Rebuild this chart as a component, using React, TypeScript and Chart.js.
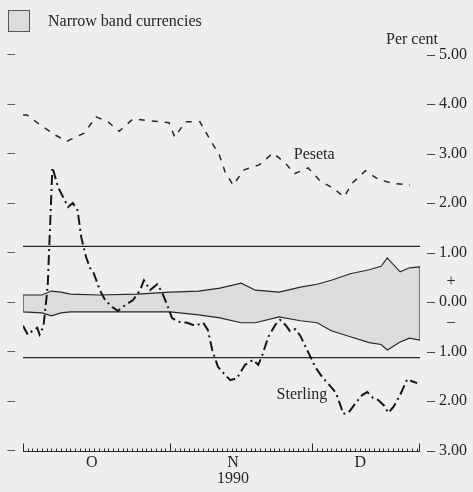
import React, { useEffect, useRef } from "react";
import { Chart, registerables } from "chart.js";

Chart.register(...registerables);

// Days counted from 1 October 1990 (day 0); the axis runs to just before Christmas.
const X_MIN = 0;
const X_MAX = 83.7;
const Y_MIN = -3;
const Y_MAX = 5;

const monthStartDays = [0, 31, 61];
const monthLabelDays = [14.5, 44.3, 71.1];
const monthLabels: (string | string[])[] = ["O", ["N", "1990"], "D"];

// Narrow-band limits (per cent)
const narrowLimit = 1.125;

// Narrow band currencies: envelope of the strongest and weakest currency
const bandDays = [0, 4, 6, 8, 10, 16, 24, 31, 37, 41.5, 46, 49, 54, 58.5, 62, 65, 69, 73, 75.5, 76.8, 79.5, 81.5, 83.7];
const bandUpper = [0.14, 0.14, 0.22, 0.2, 0.16, 0.14, 0.16, 0.2, 0.22, 0.28, 0.38, 0.24, 0.2, 0.3, 0.36, 0.44, 0.57, 0.65, 0.72, 0.89, 0.61, 0.69, 0.71];
const bandLower = [-0.2, -0.22, -0.28, -0.22, -0.2, -0.2, -0.2, -0.2, -0.26, -0.32, -0.42, -0.42, -0.3, -0.38, -0.42, -0.58, -0.7, -0.82, -0.86, -0.97, -0.81, -0.73, -0.77];

// Peseta
const pesetaDays = [0, 0.8, 3.6, 6.8, 9.3, 12.9, 15.4, 17.9, 20.3, 23.2, 27, 30.8, 32, 34.2, 37.3, 39.5, 41.4, 42.6, 44.3, 46.6, 49.8, 52.7, 55.3, 57.2, 60.1, 62.7, 65.4, 67.7, 69.4, 72.2, 74.9, 77.8, 81.6];
const pesetaValues = [3.78, 3.78, 3.58, 3.37, 3.25, 3.41, 3.74, 3.64, 3.45, 3.7, 3.66, 3.62, 3.33, 3.64, 3.64, 3.27, 2.97, 2.63, 2.36, 2.67, 2.77, 3.01, 2.81, 2.59, 2.71, 2.44, 2.3, 2.12, 2.4, 2.65, 2.48, 2.4, 2.36];

// Sterling (joined 8 October 1990)
const sterlingDays = [0, 1, 2, 3, 3.5, 4.3, 5.2, 6.2, 7.4, 9.5, 10.5, 11.5, 12.3, 13.3, 14.1, 14.8, 16.2, 17.3, 18.8, 20, 21.3, 23.2, 24.7, 25.5, 26.8, 28.3, 29.3, 30.4, 31.4, 32.7, 34.6, 36.3, 38, 39, 39.9, 41.1, 42.6, 43.7, 45.1, 46.8, 48.5, 49.6, 50.4, 51.7, 53.2, 54.2, 55.3, 56.3, 57.4, 58.4, 59.9, 61.6, 63.1, 64.8, 66, 66.9, 67.5, 68.6, 70.3, 71.5, 72.6, 73.8, 74.9, 76.2, 77, 78.1, 79.5, 81, 82, 83.1];
const sterlingValues = [-0.48, -0.66, -0.58, -0.52, -0.66, -0.5, 0.3, 2.72, 2.32, 1.92, 2.0, 1.85, 1.3, 0.91, 0.69, 0.61, 0.24, 0.04, -0.1, -0.18, -0.08, 0.04, 0.24, 0.44, 0.24, 0.36, 0.2, -0.06, -0.32, -0.4, -0.42, -0.48, -0.42, -0.57, -0.97, -1.31, -1.47, -1.58, -1.54, -1.27, -1.17, -1.27, -1.09, -0.71, -0.46, -0.36, -0.46, -0.59, -0.55, -0.67, -0.97, -1.31, -1.52, -1.7, -1.84, -2.08, -2.26, -2.24, -2.02, -1.88, -1.82, -1.94, -1.98, -2.1, -2.24, -2.12, -1.88, -1.56, -1.6, -1.64];

// Where the series names sit (day, per cent)
const pesetaNameAt = { day: 61.4, value: 2.97 };
const sterlingNameAt = { day: 58.8, value: -1.88 };

const INK = "#262626";
const PAPER = "#eeeeec";
const BAND_FILL = "#dcdcdb";
const SERIF = "'Liberation Serif', 'DejaVu Serif', serif";

const pts = (xs: number[], ys: number[]) => xs.map((x, i) => ({ x, y: ys[i] }));

const decorations = {
  id: "decorations",
  beforeDraw(chart: any) {
    const { ctx, width, height } = chart;
    ctx.save();
    ctx.fillStyle = PAPER;
    ctx.fillRect(0, 0, width, height);
    ctx.restore();
  },
  afterDraw(chart: any) {
    const { ctx, chartArea } = chart;
    const x = chart.scales.x;
    const y = chart.scales.y;
    ctx.save();
    ctx.strokeStyle = INK;
    ctx.fillStyle = INK;

    // time axis with daily ticks, taller at month starts
    const base = Math.round(y.getPixelForValue(Y_MIN)) + 0.5;
    ctx.lineWidth = 1;
    ctx.beginPath();
    ctx.moveTo(x.getPixelForValue(X_MIN), base);
    ctx.lineTo(x.getPixelForValue(X_MAX), base);
    for (let d = 0; d <= Math.floor(X_MAX); d++) {
      const px = Math.round(x.getPixelForValue(d)) + 0.5;
      const len = monthStartDays.includes(d) ? 8 : 3;
      ctx.moveTo(px, base);
      ctx.lineTo(px, base - len);
    }
    const endPx = Math.round(x.getPixelForValue(X_MAX)) - 0.5;
    ctx.moveTo(endPx, base);
    ctx.lineTo(endPx, base - 8);
    ctx.stroke();

    // legend
    ctx.fillStyle = BAND_FILL;
    ctx.fillRect(8.5, 10.5, 21, 21);
    ctx.lineWidth = 1;
    ctx.strokeStyle = "#555";
    ctx.strokeRect(8.5, 10.5, 21, 21);
    ctx.fillStyle = INK;
    ctx.font = `16px ${SERIF}`;
    ctx.textBaseline = "middle";
    ctx.textAlign = "left";
    ctx.fillText("Narrow band currencies", 48, 22);

    // unit
    ctx.textAlign = "right";
    ctx.fillText("Per cent", 438, 40);

    // sign markers between the axis labels
    ctx.textAlign = "center";
    const signX = chartArea.right + 31;
    ctx.fillText("+", signX, y.getPixelForValue(0.4));
    ctx.fillText("\u2013", signX, y.getPixelForValue(-0.4));

    // series names
    ctx.fillText("Peseta", x.getPixelForValue(pesetaNameAt.day), y.getPixelForValue(pesetaNameAt.value));
    ctx.fillText("Sterling", x.getPixelForValue(sterlingNameAt.day), y.getPixelForValue(sterlingNameAt.value));
    ctx.restore();
  },
};

export default function App() {
  const canvasRef = useRef<HTMLCanvasElement | null>(null);

  useEffect(() => {
    if (!canvasRef.current) return;
    const outline = [
      ...pts(bandDays, bandUpper),
      ...pts(bandDays, bandLower).reverse(),
      { x: bandDays[0], y: bandUpper[0] },
    ];
    const chart = new Chart(canvasRef.current, {
      type: "line",
      data: {
        datasets: [
          {
            label: "Narrow band upper",
            data: pts(bandDays, bandUpper),
            borderWidth: 0,
            pointRadius: 0,
            fill: "+1",
            backgroundColor: BAND_FILL,
            order: 6,
          },
          {
            label: "Narrow band lower",
            data: pts(bandDays, bandLower),
            borderWidth: 0,
            pointRadius: 0,
            fill: false,
            order: 5,
          },
          {
            label: "Narrow band outline",
            data: outline,
            borderColor: INK,
            borderWidth: 1.1,
            pointRadius: 0,
            fill: false,
            order: 4,
          },
          {
            label: "Upper limit",
            data: [
              { x: X_MIN, y: narrowLimit },
              { x: X_MAX, y: narrowLimit },
            ],
            borderColor: INK,
            borderWidth: 1.2,
            pointRadius: 0,
            fill: false,
            order: 3,
          },
          {
            label: "Lower limit",
            data: [
              { x: X_MIN, y: -narrowLimit },
              { x: X_MAX, y: -narrowLimit },
            ],
            borderColor: INK,
            borderWidth: 1.2,
            pointRadius: 0,
            fill: false,
            order: 3,
          },
          {
            label: "Peseta",
            data: pts(pesetaDays, pesetaValues),
            borderColor: INK,
            borderWidth: 1.5,
            borderDash: [6, 7],
            pointRadius: 0,
            fill: false,
            order: 1,
          },
          {
            label: "Sterling",
            data: pts(sterlingDays, sterlingValues),
            borderColor: "#161616",
            borderWidth: 2,
            borderDash: [10, 4, 2, 4],
            pointRadius: 0,
            fill: false,
            order: 0,
          },
        ],
      },
      options: {
        animation: false,
        responsive: false,
        layout: { padding: { top: 54.5, left: 0, right: 0, bottom: 0 } },
        plugins: {
          legend: { display: false },
          tooltip: { enabled: false },
        },
        scales: {
          x: {
            type: "linear",
            min: X_MIN,
            max: X_MAX,
            position: "bottom",
            grid: { display: false, drawTicks: false },
            border: { display: false },
            afterFit: (s: any) => {
              s.height = 41.5;
            },
            afterBuildTicks: (s: any) => {
              s.ticks = monthLabelDays.map((v) => ({ value: v }));
            },
            ticks: {
              autoSkip: false,
              maxRotation: 0,
              padding: 5,
              color: INK,
              font: { family: SERIF, size: 16, lineHeight: 0.95 },
              callback: (_v: any, i: number) => monthLabels[i],
            },
          },
          y: {
            type: "linear",
            position: "left",
            min: Y_MIN,
            max: Y_MAX,
            grid: { display: false, drawTicks: false },
            border: { display: false },
            afterFit: (s: any) => {
              s.width = 23;
            },
            ticks: {
              stepSize: 1,
              padding: 8,
              color: INK,
              font: { family: SERIF, size: 15 },
              callback: () => "\u2013",
            },
          },
          y2: {
            type: "linear",
            position: "right",
            min: Y_MIN,
            max: Y_MAX,
            grid: { display: false, drawTicks: false },
            border: { display: false },
            afterFit: (s: any) => {
              s.width = 53;
            },
            ticks: {
              stepSize: 1,
              padding: 7,
              color: INK,
              font: { family: SERIF, size: 16 },
              callback: (v: any) => "\u2013 " + Math.abs(Number(v)).toFixed(2),
            },
          },
        },
      },
      plugins: [decorations],
    });
    return () => chart.destroy();
  }, []);

  return (
    <div style={{ position: "fixed", left: 0, top: 0, background: PAPER }}>
      <canvas ref={canvasRef} width={473} height={492} />
    </div>
  );
}
